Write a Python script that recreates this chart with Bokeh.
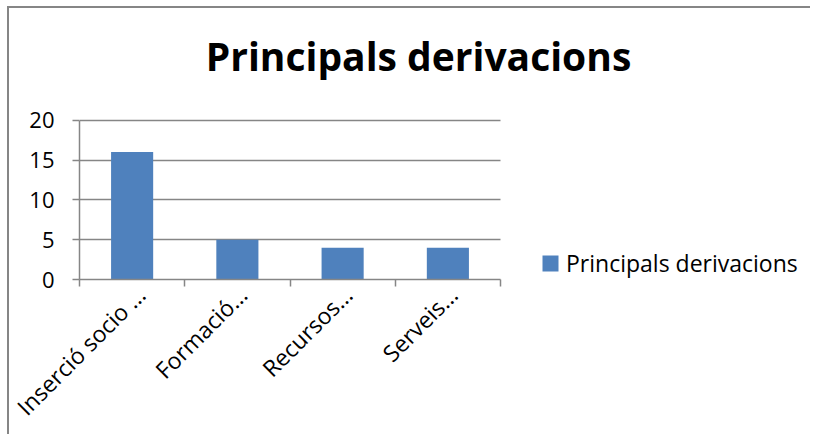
import math
from bokeh.plotting import figure
from bokeh.models import ColumnDataSource, Range1d, FixedTicker, Legend, LegendItem, Label
from bokeh.embed import file_html
from bokeh.resources import INLINE

title = "Principals derivacions"
series_name = "Principals derivacions"
categories = ["Inserció socio ...", "Formació...", "Recursos...", "Serveis..."]
values = [16, 5, 4, 4]
y_ticks = [0, 5, 10, 15, 20]

GREY = "#868686"
BLUE = "#4F81BD"
FONT = "Open Sans"

# geometry (pixels) of the plotting area
W, H = 803, 428
LEFT, BOTTOM = 70, 157
PLOT_W, PLOT_H = 421, 159.3
px_x = PLOT_W / len(categories)
px_y = PLOT_H / max(y_ticks)

positions = [i + 0.5 for i in range(len(categories))]
label_positions = [x + 0.05 for x in positions]
boundaries = [float(i) for i in range(len(categories) + 1)]

src = ColumnDataSource(dict(x=positions, top=values, cat=categories))

p = figure(width=W, height=H, output_backend="svg", toolbar_location=None,
           x_range=Range1d(0, (W - LEFT) / px_x),
           y_range=Range1d(0, (H - BOTTOM) / px_y),
           min_border_left=LEFT, min_border_right=0, min_border_top=0,
           min_border_bottom=BOTTOM)
p.styles = {"border-left": f"2px solid {GREY}", "border-top": f"2px solid {GREY}",
            "margin-left": "7px", "margin-top": "6px"}
p.outline_line_color = None
p.background_fill_color = "white"
p.border_fill_color = "white"

r = p.vbar(x="x", top="top", bottom=0, width=0.4, source=src,
           fill_color=BLUE, line_color=None)

p.xgrid.visible = False
p.ygrid.ticker = FixedTicker(ticks=y_ticks)
p.ygrid.bounds = (0, max(y_ticks))
p.ygrid.cross_bounds = (0, len(categories))
p.ygrid.grid_line_color = GREY
p.ygrid.grid_line_width = 1.5

ya = p.yaxis[0]
ya.ticker = FixedTicker(ticks=y_ticks)
ya.bounds = (0, max(y_ticks))
ya.axis_line_color = GREY
ya.axis_line_width = 1.5
ya.major_tick_line_color = GREY
ya.major_tick_line_width = 1.5
ya.major_tick_in = 0
ya.major_tick_out = 7
ya.minor_tick_line_color = None
ya.major_label_standoff = 18
ya.major_label_text_font = FONT
ya.major_label_text_font_size = "22px"
ya.major_label_text_color = "black"

xa = p.xaxis[0]
xa.ticker = FixedTicker(ticks=label_positions, minor_ticks=boundaries)
xa.bounds = (0, len(categories))
xa.major_label_overrides = {pos: cat for pos, cat in zip(label_positions, categories)}
xa.axis_line_color = GREY
xa.axis_line_width = 1.5
xa.major_tick_line_color = None
xa.major_tick_in = 0
xa.major_tick_out = 7
xa.minor_tick_line_color = GREY
xa.minor_tick_line_width = 1.5
xa.minor_tick_in = 0
xa.minor_tick_out = 7
xa.major_label_orientation = math.pi / 4
xa.major_label_standoff = 4
xa.major_label_text_font = FONT
xa.major_label_text_font_size = "23px"
xa.major_label_text_color = "black"

legend = Legend(items=[LegendItem(label=series_name, renderers=[r])],
                location=(461, 0), glyph_width=20, glyph_height=20,
                label_text_font=FONT, label_text_font_size="23px",
                label_text_color="black", label_standoff=6, label_height=20,
                padding=0, margin=0, spacing=0,
                border_line_color=None, background_fill_alpha=0)
p.add_layout(legend, "center")

p.add_layout(Label(x=(418 - 79) / px_x, y=(279 - 55) / px_y, text=title,
                   text_align="center", text_baseline="alphabetic",
                   text_font=FONT, text_font_style="bold",
                   text_font_size="39px", text_color="black"))

open("out.html", "w").write(file_html(p, INLINE))
